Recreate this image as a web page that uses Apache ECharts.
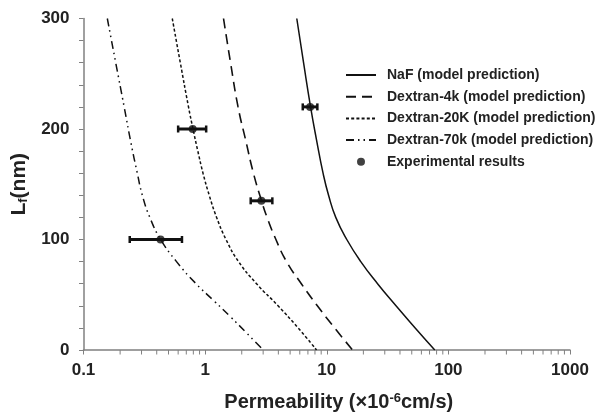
<!DOCTYPE html>
<html><head><meta charset="utf-8">
<script src="https://cdn.jsdelivr.net/npm/echarts@6/dist/echarts.min.js"></script>
<style>html,body{margin:0;padding:0;background:#fff}#c{width:597px;height:415px}</style>
</head><body><div id="c"></div>
<script>
// Model prediction curves: L_f (nm) and permeability (x10^-6 cm/s)
const nafL  = [300, 260, 220, 190, 160, 140, 120, 100, 80, 60, 40, 20, 0];
const nafP  = [5.67, 6.446, 7.36, 8.245, 9.325, 10.35, 11.86, 14.61, 19.04, 26.17, 37.09, 53.33, 77.3];
const d4kL  = [300, 260, 220, 190, 160, 135, 120, 100, 80, 60, 40, 20, 0];
const d4kP  = [1.417, 1.618, 1.865, 2.154, 2.496, 2.91, 3.23, 3.82, 4.67, 6.18, 8.37, 11.59, 16.3];
const d20kL = [300, 260, 220, 200, 180, 160, 140, 120, 100, 80, 60, 40, 20, 0];
const d20kP = [0.537, 0.625, 0.73, 0.795, 0.871, 0.961, 1.081, 1.243, 1.485, 1.883, 2.647, 3.977, 5.81, 8.25];
const d70kL = [300, 260, 220, 187, 160, 140, 120, 100, 80, 60, 44, 30, 15, 0];
const d70kP = [0.157, 0.184, 0.216, 0.246, 0.277, 0.3046, 0.351, 0.431, 0.582, 0.842, 1.195, 1.618, 2.211, 3.01];
// Experimental results
const expL    = [220, 200, 135, 100];
const expP    = [7.3, 0.79, 2.9, 0.43];
const expLow  = [6.35, 0.6, 2.37, 0.24];
const expHigh = [8.37, 1.02, 3.57, 0.645];
// Axis tick values
const xMinorTicks = [0.2,0.3,0.4,0.5,0.6,0.7,0.8,0.9, 2,3,4,5,6,7,8,9, 20,30,40,50,60,70,80,90, 200,300,400,500,600,700,800,900];
const xTickLabels = {'0.1': '0.1', '1': '1', '10': '10', '100': '100', '1000': '1000'};
const names = ['NaF (model prediction)', 'Dextran-4k (model prediction)', 'Dextran-20K (model prediction)', 'Dextran-70k (model prediction)', 'Experimental results'];

const pairs = (P, L) => P.map((p, i) => [p, L[i]]);
const INK = '#111';
const AX = '#808080';
const FONT = 'Liberation Sans, Arial, sans-serif';

const chart = echarts.init(document.getElementById('c'), null, {renderer: 'canvas'});
const lineSeries = (name, P, L, type, w) => ({
  name, type: 'line', data: pairs(P, L), symbol: 'none', smooth: 0.5,
  lineStyle: {color: INK, width: w, type}, itemStyle: {color: INK}, z: 2
});

chart.setOption({
  animation: false,
  backgroundColor: '#fff',
  grid: {left: 83.5, right: 27, top: 18.5, bottom: 65, containLabel: false, outerBoundsMode: 'none'},
  legend: {
    orient: 'vertical', left: 345, top: 68, padding: 0, itemWidth: 30, itemHeight: 8, itemGap: 7.7,
    data: names.map((n, i) => i < 4 ? {name: n, itemStyle: {opacity: 0}} : {name: n}),
    textStyle: {fontFamily: FONT, fontSize: 14, fontWeight: 'bold', color: '#222', padding: [0, 0, 0, 6]},
    inactiveColor: '#ccc'
  },
  xAxis: {
    type: 'log', logBase: 10, min: 0.1, max: 1000,
    name: 'Permeability (×10{sup|-6}cm/s)', nameLocation: 'middle', nameGap: 42,
    nameTextStyle: {fontFamily: FONT, fontSize: 20, fontWeight: 'bold', color: '#222', padding: [0, 0, 0, 24],
      rich: {sup: {fontFamily: FONT, fontSize: 13, fontWeight: 'bold', color: '#222', verticalAlign: 'top', lineHeight: 12}}},
    axisLine: {show: true, lineStyle: {color: AX, width: 1.5}},
    axisTick: {show: true, inside: false, length: 4.5, lineStyle: {color: AX, width: 1}},
    axisLabel: {fontFamily: FONT, fontSize: 17, fontWeight: 'bold', color: '#222', margin: 12, showMinLabel: true, showMaxLabel: true,
      formatter: v => xTickLabels[String(+v.toPrecision(6))] || String(+v.toPrecision(6))},
    splitLine: {show: false}
  },
  yAxis: {
    type: 'value', min: 0, max: 300, interval: 100,
    name: 'L{sub|f}(nm)', nameLocation: 'middle', nameGap: 54,
    nameTextStyle: {fontFamily: FONT, fontSize: 21, fontWeight: 'bold', color: '#222',
      rich: {sub: {fontFamily: FONT, fontSize: 13, fontWeight: 'bold', color: '#222', verticalAlign: 'bottom'}}},
    axisLine: {show: true, lineStyle: {color: AX, width: 1.5}},
    axisTick: {show: true, inside: false, length: 4.5, lineStyle: {color: AX, width: 1}},
    minorTick: {show: true, splitNumber: 5, length: 4.5, lineStyle: {color: AX, width: 1}},
    axisLabel: {fontFamily: FONT, fontSize: 17, fontWeight: 'bold', color: '#222', margin: 14},
    splitLine: {show: false}
  },
  series: [
    lineSeries(names[0], nafP, nafL, 'solid', 1.5),
    lineSeries(names[1], d4kP, d4kL, [10, 6], 1.6),
    lineSeries(names[2], d20kP, d20kL, [3, 2.2], 1.5),
    lineSeries(names[3], d70kP, d70kL, [8, 4, 1.5, 4, 1.5, 4], 1.5),
    {
      name: 'errbars', type: 'custom', clip: false, z: 3, silent: true,
      data: expL.map((l, i) => [l, expLow[i], expHigh[i]]),
      encode: {x: [1, 2], y: 0},
      renderItem: (params, api) => {
        const L = api.value(0);
        const a = api.coord([api.value(1), L]);
        const b = api.coord([api.value(2), L]);
        const h = 3.5;
        return {type: 'group', children: [
          {type: 'line', shape: {x1: a[0], y1: a[1], x2: b[0], y2: b[1]}, style: {stroke: INK, lineWidth: 3}},
          {type: 'line', shape: {x1: a[0], y1: a[1] - h, x2: a[0], y2: a[1] + h}, style: {stroke: INK, lineWidth: 2.5}},
          {type: 'line', shape: {x1: b[0], y1: b[1] - h, x2: b[0], y2: b[1] + h}, style: {stroke: INK, lineWidth: 2.5}}
        ]};
      }
    },
    {
      name: names[4], type: 'scatter', data: pairs(expP, expL), symbol: 'circle', symbolSize: 8,
      itemStyle: {color: INK}, z: 4
    },
    {
      name: 'xminor', type: 'custom', clip: false, silent: true, z: 1,
      data: xMinorTicks.map(v => [v, 0]),
      encode: {x: 0, y: 1},
      renderItem: (params, api) => {
        const p = api.coord([api.value(0), 0]);
        return {type: 'line', shape: {x1: p[0], y1: p[1], x2: p[0], y2: p[1] + 4.5}, style: {stroke: AX, lineWidth: 1}};
      }
    }
  ]
});
</script></body></html>
